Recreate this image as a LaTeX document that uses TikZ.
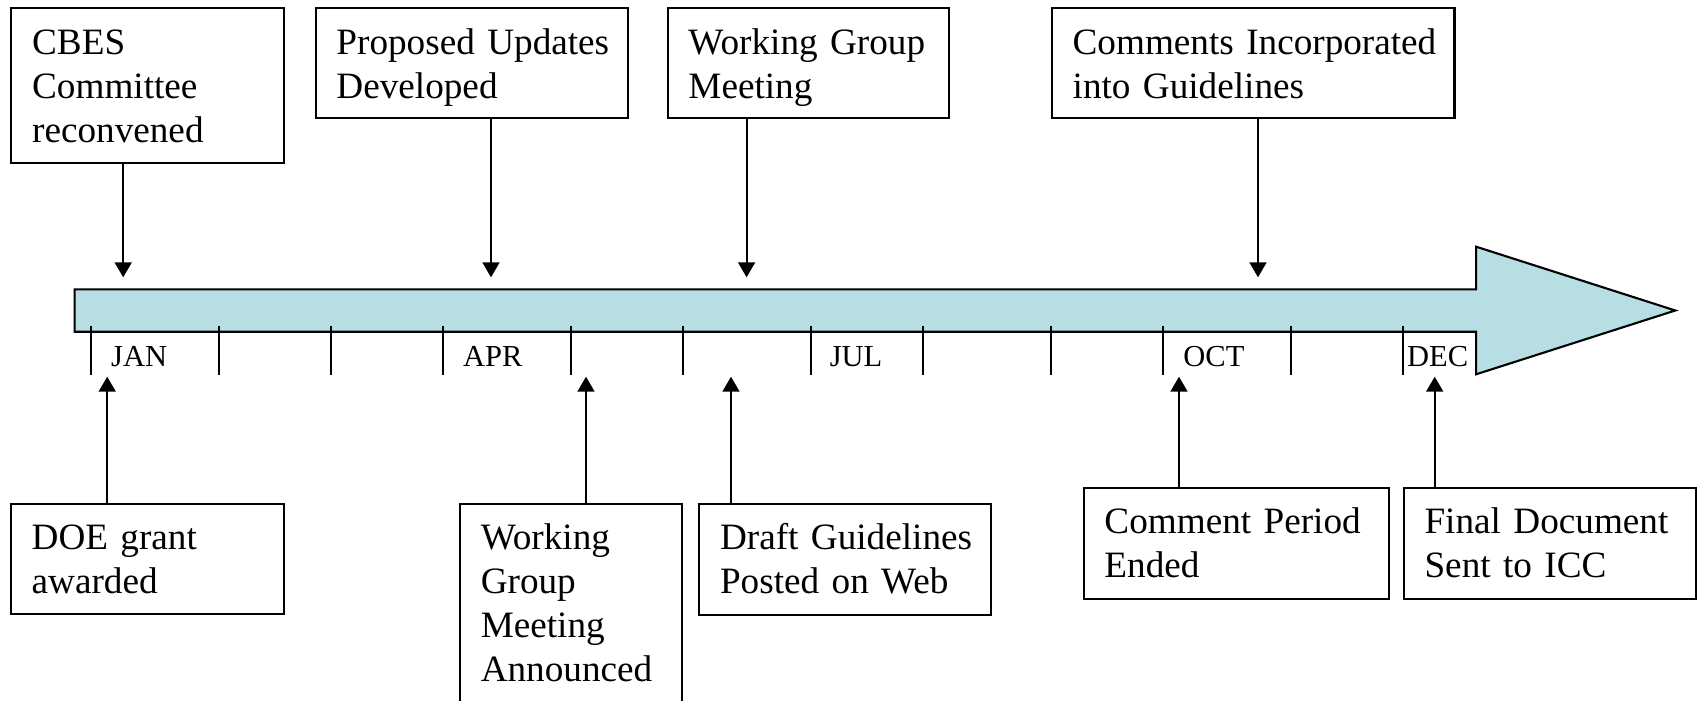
\documentclass[tikz,border=0pt]{standalone}
\usepackage{fontspec}
\setmainfont{Liberation Serif}
\usetikzlibrary{arrows.meta}
\definecolor{barfill}{RGB}{183,222,226}
\tikzset{
  evbox/.style={draw, line width=2.1pt, anchor=north west, inner xsep=20.8pt, inner ysep=0pt,
    align=left, font=\fontsize{37.2}{44}\selectfont},
  conn/.style={line width=1.8pt, -{Triangle[width=17pt,length=15pt]}},
  monthtick/.style={line width=1.9pt},
  month/.style={anchor=base west, inner sep=0pt, font=\fontsize{30.5}{36}\selectfont},
  timebar/.style={line width=2.1pt, fill=barfill, line join=miter}
}
\begin{document}
\begin{tikzpicture}[x=1pt,y=-1pt]
\useasboundingbox (0,0) rectangle (1698,701);
\fill[white] (0,0) rectangle (1698,701);
\clip (0,0) rectangle (1698,701);

% time bar
\draw[timebar] (74.6,289.3) -- (1476.1,289.3) -- (1476.1,246.7) -- (1675.3,310.5)
  -- (1476.1,374.3) -- (1476.1,331.7) -- (74.6,331.7) -- cycle;
\foreach \x in {90.7,218.9,331.0,443.2,571.4,682.7,810.9,922.6,1050.8,1163,1290.9,1402.7}
  \draw[monthtick] (\x,326) -- (\x,375);

% months
\node[month] (jan) at (111,366.7) {JAN};
\node[month] (apr) at (463,366.7) {APR};
\node[month] (jul) at (829.6,366.7) {JUL};
\node[month] (oct) at (1183.2,366.7) {OCT};
\node[month] (dec) at (1406.9,366.7) {DEC};

% top boxes
\node[evbox, text width=231.3pt] (cbes) at (10.3,6.7)
  {\rule{0pt}{46.6pt}\mbox{CBES}\\\mbox{Committee}\\\mbox{reconvened}\rule[-21pt]{0pt}{21pt}};
\node[evbox, text width=270.6pt] (prop) at (314.6,6.7)
  {\rule{0pt}{46.6pt}\mbox{Proposed Updates}\\\mbox{Developed}\rule[-20pt]{0pt}{20pt}};
\node[evbox, text width=239.3pt] (wgm) at (666.6,6.7)
  {\rule{0pt}{46.6pt}\mbox{Working Group}\\\mbox{Meeting}\rule[-20pt]{0pt}{20pt}};
\node[evbox, text width=361pt] (comm) at (1050.8,6.7)
  {\rule{0pt}{46.6pt}\mbox{Comments Incorporated}\\\mbox{into Guidelines}\rule[-20pt]{0pt}{20pt}};

% bottom boxes
\node[evbox, text width=231.6pt] (doe) at (9.8,502.7)
  {\rule{0pt}{45.6pt}\mbox{DOE grant}\\\mbox{awarded}\rule[-21pt]{0pt}{21pt}};
\node[evbox, text width=180.8pt] (wgma) at (458.9,502.7)
  {\rule{0pt}{46pt}\mbox{Working}\\\mbox{Group}\\\mbox{Meeting}\\\mbox{Announced}\rule[-25pt]{0pt}{25pt}};
\node[evbox, text width=249.9pt] (draft) at (698.2,502.7)
  {\rule{0pt}{45.6pt}\mbox{Draft Guidelines}\\\mbox{Posted on Web}\rule[-21.7pt]{0pt}{21.7pt}};
\node[evbox, text width=263.6pt] (cper) at (1082.6,486.7)
  {\rule{0pt}{45.6pt}\mbox{Comment Period}\\\mbox{Ended}\rule[-21.7pt]{0pt}{21.7pt}};
\node[evbox, text width=250.7pt] (final) at (1402.7,486.7)
  {\rule{0pt}{45.6pt}\mbox{Final Document}\\\mbox{Sent to ICC}\rule[-21.7pt]{0pt}{21.7pt}};

% arrow tips
\coordinate (tcbes) at (123.2,277.3);
\coordinate (tprop) at (491,277.3);
\coordinate (twgm) at (746.6,277.3);
\coordinate (tcomm) at (1258,277.3);
\coordinate (tdoe) at (107.2,376.7);
\coordinate (twgma) at (586,376.7);
\coordinate (tdraft) at (731,376.7);
\coordinate (tcper) at (1179,376.7);
\coordinate (tfinal) at (1434.7,376.7);

\draw[conn] (cbes.south -| tcbes) -- (tcbes);
\draw[conn] (prop.south -| tprop) -- (tprop);
\draw[conn] (wgm.south -| twgm) -- (twgm);
\draw[conn] (comm.south -| tcomm) -- (tcomm);
\draw[conn] (doe.north -| tdoe) -- (tdoe);
\draw[conn] (wgma.north -| twgma) -- (twgma);
\draw[conn] (draft.north -| tdraft) -- (tdraft);
\draw[conn] (cper.north -| tcper) -- (tcper);
\draw[conn] (final.north -| tfinal) -- (tfinal);
\end{tikzpicture}
\end{document}
